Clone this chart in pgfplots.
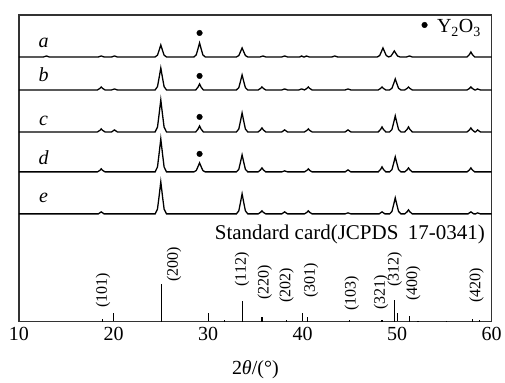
\documentclass[border=0pt]{standalone}
\usepackage{fontspec}
\setmainfont{Liberation Serif}
\usepackage{pgfplots}
\pgfplotsset{compat=1.18}
\begin{document}
\begin{tikzpicture}
\begin{axis}[name=ax,
  scale only axis, width=473pt, height=307pt,
  xmin=10, xmax=60, ymin=0, ymax=307,
  ytick=\empty,
  xtick={10,20,30,40,50,60},
  xtick pos=bottom, tick align=inside, major tick length=9pt,
  axis line style={line width=1.1pt, black!80},
  tick style={line width=1pt, black},
  /pgf/number format/assume math mode=true,
  ticklabel style={font=\fontsize{20}{20}\selectfont},
  xticklabel style={yshift=-2pt},
  xlabel={2\textit{θ}/(°)},
  xlabel style={font=\fontsize{20}{20}\selectfont, yshift=-13pt},
  clip=false,
]
% traces
\addplot[black, line width=1.3pt] coordinates {(10,265)
(12.6,265)(12.9,266)(13.2,265)
(18.4,265)(18.7,266)(19.0,265)
(19.8,265)(20.1,266)(20.4,265)
(24.4,265)(24.65,266.8)(24.82,271.6)(25,277)(25.18,271.6)(25.35,266.8)(25.6,265)
(28.5,265)(28.75,267.1)(28.92,272.7)(29.1,279)(29.28,272.7)(29.45,267.1)(29.7,265)
(33.0,265)(33.25,266.4)(33.42,270)(33.6,274)(33.78,270)(33.95,266.4)(34.2,265)
(35.5,265)(35.8,266)(36.1,265)
(37.8,265)(38.1,266)(38.4,265)
(39.7,265)(39.9,266)(40.1,265)
(40.2,265)(40.4,266)(40.7,265)
(43.1,265)(43.4,266)(43.7,265)
(47.9,265)(48.15,266.4)(48.32,270)(48.5,274)(48.68,270)(48.85,266.4)(49.1,265)
(49.35,265.9)(49.52,268.3)(49.7,271)(49.88,268.3)(50.05,265.9)(50.3,265)
(51.0,265)(51.3,266)(51.6,265)
(57.4,265)(57.65,267.5)(57.8,270)(57.95,267.5)(58.2,265)
(60,265)};
\addplot[black, line width=1.3pt] coordinates {(10,232)
(18.3,232)(18.55,233.5)(18.7,235)(18.85,233.5)(19.1,232)
(19.8,232)(20.1,233)(20.4,232)
(24.4,232)(24.65,235.3)(24.82,244.1)(25,254)(25.18,244.1)(25.35,235.3)(25.6,232)
(28.7,232)(28.95,235)(29.1,238)(29.25,235)(29.5,232)
(33.0,232)(33.25,234.25)(33.42,240.25)(33.6,247)(33.78,240.25)(33.95,234.25)(34.2,232)
(35.3,232)(35.55,233.5)(35.7,235)(35.85,233.5)(36.1,232)
(37.8,232)(38.1,233)(38.4,232)
(39.6,232)(39.9,233)(40.2,232)
(40.45,233.5)(40.6,235)(40.75,233.5)(41.0,232)
(44.5,232)(44.8,233)(45.1,232)
(48.0,232)(48.25,233.5)(48.4,235)(48.55,233.5)(48.8,232)
(49.2,232)(49.45,233.65)(49.62,238.05)(49.8,243)(49.98,238.05)(50.15,233.65)(50.4,232)
(50.8,232)(51.05,233.5)(51.2,235)(51.35,233.5)(51.6,232)
(57.4,232)(57.65,233.5)(57.8,235)(57.95,233.5)(58.2,232)
(58.3,232)(58.5,233)(58.8,232)
(60,232)};
\addplot[black, line width=1.3pt] coordinates {(10,190)
(18.3,190)(18.55,191.5)(18.7,193)(18.85,191.5)(19.1,190)
(19.8,190)(20.1,192)(20.4,190)
(24.4,190)(24.65,194.8)(24.82,207.6)(25,222)(25.18,207.6)(25.35,194.8)(25.6,190)
(28.7,190)(28.95,193)(29.1,196)(29.25,193)(29.5,190)
(33.0,190)(33.25,192.85)(33.42,200.45)(33.6,209)(33.78,200.45)(33.95,192.85)(34.2,190)
(35.3,190)(35.55,192)(35.7,194)(35.85,192)(36.1,190)
(37.8,190)(38.1,192)(38.4,190)
(40.2,190)(40.45,191.5)(40.6,193)(40.75,191.5)(41.0,190)
(44.5,190)(44.8,192)(45.1,190)
(48.0,190)(48.25,192.5)(48.4,195)(48.55,192.5)(48.8,190)
(49.2,190)(49.45,192.4)(49.62,198.8)(49.8,206)(49.98,198.8)(50.15,192.4)(50.4,190)
(50.8,190)(51.05,192.5)(51.2,195)(51.35,192.5)(51.6,190)
(57.4,190)(57.65,192)(57.8,194)(57.95,192)(58.2,190)
(58.3,190)(58.5,192)(58.8,190)
(60,190)};
\addplot[black, line width=1.3pt] coordinates {(10,150)
(18.3,150)(18.55,151.5)(18.7,153)(18.85,151.5)(19.1,150)
(24.4,150)(24.65,154.95)(24.82,168.15)(25,183)(25.18,168.15)(25.35,154.95)(25.6,150)
(28.5,150)(28.75,151.35)(28.92,154.95)(29.1,159)(29.28,154.95)(29.45,151.35)(29.7,150)
(33.0,150)(33.25,152.55)(33.42,159.35)(33.6,167)(33.78,159.35)(33.95,152.55)(34.2,150)
(35.3,150)(35.55,152)(35.7,154)(35.85,152)(36.1,150)
(37.8,150)(38.1,151)(38.4,150)
(40.2,150)(40.45,151.5)(40.6,153)(40.75,151.5)(41.0,150)
(44.5,150)(44.8,152)(45.1,150)
(48.0,150)(48.25,152.5)(48.4,155)(48.55,152.5)(48.8,150)
(49.2,150)(49.45,152.25)(49.62,158.25)(49.8,165)(49.98,158.25)(50.15,152.25)(50.4,150)
(50.8,150)(51.05,152)(51.2,154)(51.35,152)(51.6,150)
(57.4,150)(57.65,152)(57.8,154)(57.95,152)(58.2,150)
(60,150)};
\addplot[black, line width=1.3pt] coordinates {(10,108)
(18.4,108)(18.7,110)(19.0,108)
(24.4,108)(24.65,112.8)(24.82,125.6)(25,140)(25.18,125.6)(25.35,112.8)(25.6,108)
(33.0,108)(33.25,111)(33.42,119)(33.6,128)(33.78,119)(33.95,111)(34.2,108)
(35.3,108)(35.55,109.5)(35.7,111)(35.85,109.5)(36.1,108)
(37.8,108)(38.1,110)(38.4,108)
(40.2,108)(40.45,109.5)(40.6,111)(40.75,109.5)(41.0,108)
(44.5,108)(44.8,109)(45.1,108)
(48.1,108)(48.4,110)(48.7,108)
(49.2,108)(49.45,110.4)(49.62,116.8)(49.8,124)(49.98,116.8)(50.15,110.4)(50.4,108)
(50.8,108)(51.05,110)(51.2,112)(51.35,110)(51.6,108)
(57.5,108)(57.8,110)(58.1,108)
(58.3,108)(58.5,109)(58.8,108)
(60,108)};
% standard card sticks
\addplot[ycomb, black, line width=1.2pt, mark=none] coordinates {
(18.8,3)(25.05,38)(31.7,2)(33.6,21)(35.7,5)(38.3,2)(40.5,5)(45.0,2)(48.4,2)(49.75,22)(51.3,6)(52.2,1)(55.2,1)(58.0,3)(58.7,2)};
% Y2O3 markers
\addplot[only marks, mark=*, mark size=2.8pt, black] coordinates {(29.1,289)(29.1,246)(29.1,205)(29.1,168)(52.9,297)};
% labels
\begin{scope}[every node/.style={font=\fontsize{20}{20}\selectfont\itshape, anchor=base}]
\node at (axis cs:12.6,274) {a};
\node at (axis cs:12.6,240) {b};
\node at (axis cs:12.6,196) {c};
\node at (axis cs:12.6,157) {d};
\node at (axis cs:12.6,119) {e};
\end{scope}
\node[anchor=base west, inner sep=0pt, font=\fontsize{20}{20}\selectfont] at (axis cs:54.2,289) {Y\textsubscript{2}O\textsubscript{3}};
\node[anchor=base east, inner sep=0pt, font=\fontsize{21}{21}\selectfont] at (axis cs:59.3,82) {Standard card(JCPDS\hspace{0.45em}17-0341)};
\begin{scope}[every node/.style={rotate=90, anchor=west, inner sep=0pt, font=\fontsize{16}{16}\selectfont}]
\node at (axis cs:18.9,14) {(101)};
\node at (axis cs:26.4,40) {(200)};
\node at (axis cs:33.6,35) {(112)};
\node at (axis cs:36.0,22) {(220)};
\node at (axis cs:38.3,19) {(202)};
\node at (axis cs:40.9,24) {(301)};
\node at (axis cs:45.2,11) {(103)};
\node at (axis cs:48.3,12) {(321)};
\node at (axis cs:49.75,35) {(312)};
\node at (axis cs:51.7,21) {(400)};
\node at (axis cs:58.4,19) {(420)};
\end{scope}
\end{axis}
\path ([xshift=-19pt,yshift=-54pt]ax.south west) rectangle ([xshift=13pt,yshift=15pt]ax.north east);
\end{tikzpicture}
\end{document}
